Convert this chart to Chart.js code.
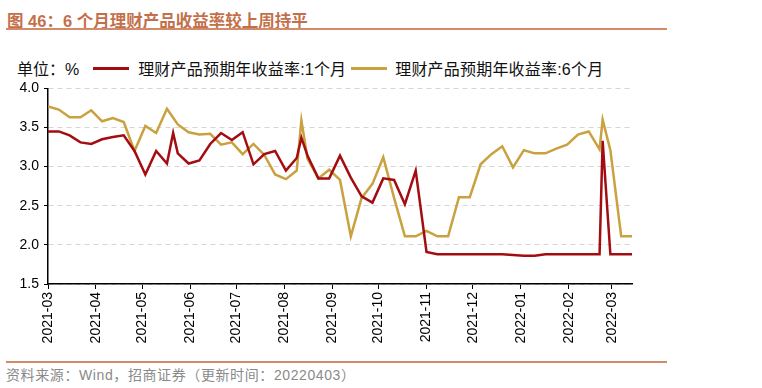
<!DOCTYPE html>
<html>
<head>
<meta charset="utf-8">
<script src="https://cdn.jsdelivr.net/npm/chart.js@4/dist/chart.umd.min.js"></script>
<style>
  body { margin: 0; background: #fff; }
  #wrap { position: relative; width: 762px; height: 388px; overflow: hidden;
    font-family: "Liberation Sans", "Noto Sans CJK SC", sans-serif; text-spacing-trim: space-all; }
  .title { position: absolute; left: 7px; top: 8px; font-size: 16.5px; font-weight: bold; color: #c3704a; white-space: nowrap; }
  .rule { position: absolute; left: 6px; width: 661px; height: 2px; background: #d38a69; }
  .legend { position: absolute; left: 17px; top: 56px; font-size: 16px; color: #111; white-space: nowrap; }
  .legend span { display: inline-block; vertical-align: middle; }
  .legend .lab { letter-spacing: 0.2px; }
  .swatch { width: 36px; height: 3px; }
  .source { position: absolute; left: 6px; top: 364px; font-size: 14px; letter-spacing: 0.6px; color: #8a8a8a; white-space: nowrap; }
  canvas { position: absolute; left: 0; top: 75px; }
</style>
</head>
<body>
<div id="wrap">
  <div class="title">图 46：6 个月理财产品收益率较上周持平</div>
  <div class="rule" style="top:28px"></div>
  <div class="legend">
    <span>单位：%</span>
    <span class="swatch" style="background:#a30d12;margin-left:9px"></span>
    <span class="lab" style="margin-left:5px">理财产品预期年收益率:1个月</span>
    <span class="swatch" style="background:#c9a13e;margin-left:0px"></span>
    <span class="lab" style="margin-left:4px">理财产品预期年收益率:6个月</span>
  </div>
  <canvas id="chart" width="762" height="285"></canvas>
  <div class="rule" style="top:361px"></div>
  <div class="source">资料来源：Wind，招商证券（更新时间：20220403）</div>
</div>
<script>
// 日期（周度，含几个插入的观测日）
var dates = [
  '2021-03-01','2021-03-08','2021-03-15','2021-03-22','2021-03-29','2021-04-05','2021-04-12','2021-04-19',
  '2021-04-26','2021-05-03','2021-05-10','2021-05-17','2021-05-21','2021-05-24','2021-05-31','2021-06-07',
  '2021-06-14','2021-06-21','2021-06-28','2021-07-05','2021-07-12','2021-07-19','2021-07-26','2021-08-02',
  '2021-08-09','2021-08-12','2021-08-16','2021-08-23','2021-08-30','2021-09-06','2021-09-13','2021-09-20',
  '2021-09-27','2021-10-04','2021-10-11','2021-10-18','2021-10-25','2021-11-01','2021-11-08','2021-11-15',
  '2021-11-22','2021-11-29','2021-12-06','2021-12-13','2021-12-20','2021-12-27','2022-01-03','2022-01-10',
  '2022-01-17','2022-01-24','2022-01-31','2022-02-07','2022-02-14','2022-02-21','2022-02-23','2022-02-28',
  '2022-03-07','2022-03-14'
];
// 理财产品预期年收益率:1个月
var oneMonth = [
  3.45, 3.45, 3.40, 3.31, 3.29, 3.35, 3.38, 3.40,
  3.20, 2.90, 3.20, 3.04, 3.43, 3.17, 3.04, 3.08,
  3.29, 3.43, 3.34, 3.44, 3.03, 3.16, 3.20, 2.95,
  3.11, 3.37, 3.14, 2.85, 2.85, 3.14, 2.86, 2.62,
  2.54, 2.85, 2.83, 2.52, 2.95, 1.91, 1.88, 1.88,
  1.88, 1.88, 1.88, 1.88, 1.88, 1.87, 1.86, 1.86,
  1.88, 1.88, 1.88, 1.88, 1.88, 1.88, 3.33, 1.88,
  1.88, 1.88
];
// 理财产品预期年收益率:6个月
var sixMonth = [
  3.77, 3.73, 3.63, 3.63, 3.72, 3.58, 3.62, 3.57,
  3.20, 3.52, 3.43, 3.74, null, 3.54, 3.44, 3.41,
  3.42, 3.28, 3.31, 3.16, 3.29, 3.15, 2.90, 2.84,
  2.95, 3.59, 3.10, 2.85, 2.96, 2.83, 2.11, 2.60,
  2.78, 3.12, 2.60, 2.11, 2.11, 2.18, 2.11, 2.11,
  2.61, 2.61, 3.03, 3.16, 3.26, 2.99, 3.21, 3.17,
  3.17, 3.23, 3.28, 3.41, 3.45, 3.22, 3.60, 3.21,
  2.11, 2.11
];
var tickLabels = ['2021-03','2021-04','2021-05','2021-06','2021-07','2021-08','2021-09',
  '2021-10','2021-11','2021-12','2022-01','2022-02','2022-03'];
var yTicks = [1.5, 2.0, 2.5, 3.0, 3.5, 4.0];

var DAY = 86400000;
var base = Date.UTC(2021, 2, 1);
function dayOf(s) {
  var p = s.split('-');
  return (Date.UTC(+p[0], +p[1] - 1, +p[2]) - base) / DAY;
}
var xs = dates.map(dayOf);
var monthPos = tickLabels.map(function(m) { return dayOf(m + '-01'); });

function pts(vals) {
  return vals.map(function(v, i) { return {x: xs[i], y: v}; });
}

var font = {family: '"Liberation Sans", "Noto Sans CJK SC", sans-serif', size: 14};

new Chart(document.getElementById('chart'), {
  type: 'line',
  data: {
    datasets: [
      {label: '理财产品预期年收益率:1个月', data: pts(oneMonth), borderColor: '#a30d12', borderWidth: 2.5, spanGaps: true},
      {label: '理财产品预期年收益率:6个月', data: pts(sixMonth), borderColor: '#c9a13e', borderWidth: 2.5, spanGaps: true}
    ]
  },
  options: {
    responsive: false,
    animation: false,
    devicePixelRatio: 1,
    layout: {padding: {top: 12, right: 130, left: 0, bottom: 0}},
    elements: {point: {radius: 0}, line: {tension: 0}},
    plugins: {legend: {display: false}, tooltip: {enabled: false}},
    scales: {
      x: {
        type: 'linear',
        min: xs[0],
        max: xs[xs.length - 1],
        afterBuildTicks: function(scale) {
          scale.ticks = monthPos.map(function(v) { return {value: v}; });
        },
        afterFit: function(scale) { scale.height = 76; },
        ticks: {
          autoSkip: false, minRotation: 90, maxRotation: 90, padding: 3, color: '#000', font: font,
          callback: function(v) { return tickLabels[monthPos.indexOf(v)]; }
        },
        grid: {drawOnChartArea: false, drawTicks: true, tickLength: 5, tickColor: '#000'},
        border: {display: true, color: '#000', width: 1.5}
      },
      y: {
        min: 1.5,
        max: 4.0,
        afterBuildTicks: function(scale) {
          scale.ticks = yTicks.map(function(v) { return {value: v}; });
        },
        afterFit: function(scale) { scale.width = 48; },
        ticks: {
          padding: 5, color: '#000', font: font,
          callback: function(v) { return v.toFixed(1); }
        },
        grid: {color: '#d6d6d6', lineWidth: 1, drawTicks: true, tickLength: 4, tickColor: '#000'},
        border: {display: true, color: '#000', width: 1.5, dash: [5, 4]}
      }
    }
  }
});
</script>
</body>
</html>
